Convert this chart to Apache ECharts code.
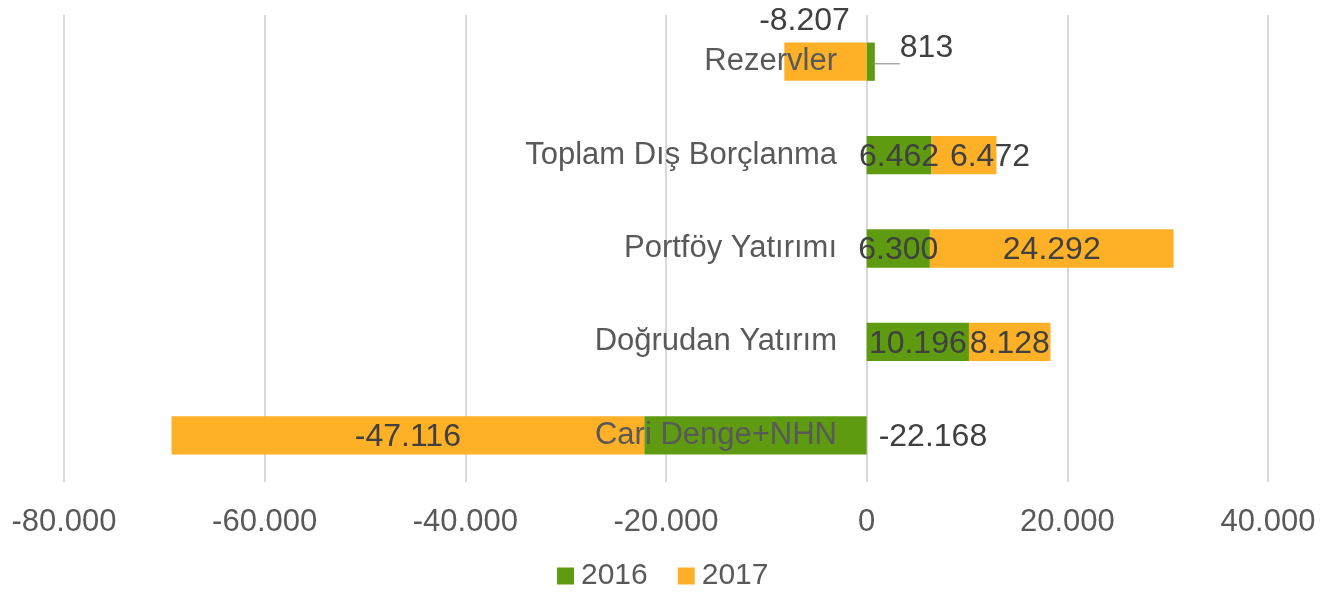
<!DOCTYPE html>
<html>
<head>
<meta charset="utf-8">
<script src="https://cdn.jsdelivr.net/npm/echarts@6/dist/echarts.min.js"></script>
<style>
  html, body { margin: 0; padding: 0; background: #fff; }
  #chart { width: 1335px; height: 604px; }
</style>
</head>
<body>
<div id="chart"></div>
<script>
// Data (bottom to top, as the category axis draws them)
const categories = ['Cari Denge+NHN', 'Doğrudan Yatırım', 'Portföy Yatırımı', 'Toplam Dış Borçlanma', 'Rezervler'];
const values2016 = [-22168, 10196, 6300, 6462, 813];
const values2017 = [-47116, 8128, 24292, 6472, -8207];
const seriesNames = ['2016', '2017'];

const GREEN = '#5f9b11';
const ORANGE = '#feb027';

// Turkish style thousands separator
function fmt(v) {
    const s = Math.abs(v).toString().replace(/\B(?=(\d{3})+(?!\d))/g, '.');
    return (v < 0 ? '-' : '') + s;
}

const valueLabel = {
    show: true,
    position: 'inside',
    offset: [0, 2],
    fontFamily: 'Liberation Sans',
    fontSize: 32,
    color: '#404040',
    formatter: p => fmt(p.value)
};

// a few labels sit outside the bar or are nudged, like in the original
const data2016 = values2016.map((v, i) => {
    if (categories[i] === 'Cari Denge+NHN') {
        return { value: v, label: { position: 'right', distance: 12, offset: [0, 2] } };
    }
    if (categories[i] === 'Rezervler') {
        return {
            value: v,
            label: { position: 'right', offset: [20, -14] },
            labelLine: { show: true, lineStyle: { color: '#a6a6a6', width: 1.5 } }
        };
    }
    return v;
});
const data2017 = values2017.map((v, i) => {
    if (categories[i] === 'Rezervler') {
        return { value: v, label: { position: 'top', offset: [-21, 0] } };
    }
    if (categories[i] === 'Toplam Dış Borçlanma') {
        return { value: v, label: { offset: [26, 2] } };
    }
    return v;
});

const chart = echarts.init(document.getElementById('chart'));

chart.setOption({
    animation: false,
    grid: { left: 64, right: 67, top: 15, bottom: 122, outerBoundsMode: 'none' },
    legend: {
        data: seriesNames,
        bottom: 8,
        left: 552,
        icon: 'rect',
        itemWidth: 17,
        itemHeight: 17,
        itemGap: 30,
        textStyle: { fontFamily: 'Liberation Sans', fontSize: 30, color: '#595959', padding: [0, 0, 0, 2] }
    },
    xAxis: {
        type: 'value',
        min: -80000,
        max: 40000,
        interval: 20000,
        axisLine: { show: false },
        axisTick: { show: false },
        axisLabel: {
            margin: 25,
            fontFamily: 'Liberation Sans',
            fontSize: 31,
            color: '#595959',
            formatter: v => fmt(v)
        },
        splitLine: { show: true, lineStyle: { color: '#d9d9d9', width: 2 } }
    },
    yAxis: {
        type: 'category',
        data: categories,
        z: 5,
        axisLine: { show: false },
        axisTick: { show: false },
        splitLine: { show: false },
        axisLabel: {
            // labels sit just left of the zero line
            margin: -773,
            fontFamily: 'Liberation Sans',
            fontSize: 31,
            color: '#595959',
            padding: [7, 0, 0, 0]
        }
    },
    series: [
        {
            name: '2016',
            type: 'bar',
            stack: 'total',
            barWidth: '41%',
            itemStyle: { color: GREEN },
            label: valueLabel,
            data: data2016
        },
        {
            name: '2017',
            type: 'bar',
            stack: 'total',
            barWidth: '41%',
            itemStyle: { color: ORANGE },
            label: valueLabel,
            data: data2017
        }
    ]
});

window.addEventListener('resize', () => chart.resize());
</script>
</body>
</html>
